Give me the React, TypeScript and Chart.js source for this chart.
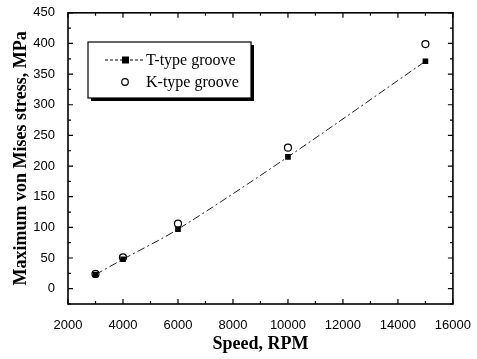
import React, { useEffect, useRef } from "react";
import { Chart, registerables } from "chart.js";

Chart.register(...registerables);

const speeds = [3000, 4000, 6000, 10000, 15000];
const tTypeStress = [23, 48, 97, 215, 371];
const kTypeStress = [24, 51, 106, 230, 399];
const xTicks = [2000, 4000, 6000, 8000, 10000, 12000, 14000, 16000];
const yTicks = [0, 50, 100, 150, 200, 250, 300, 350, 400, 450];
const seriesNames = ["T-type groove", "K-type groove"];

const framePlugin = {
  id: "frame",
  afterDraw(chart: any) {
    const { ctx, chartArea: a, scales } = chart;
    const xs = scales.x;
    const ys = scales.y;
    ctx.save();
    ctx.strokeStyle = "#000";
    ctx.lineWidth = 1.6;
    ctx.strokeRect(a.left, a.top, a.right - a.left, a.bottom - a.top);
    ctx.lineWidth = 1.2;
    const major = 5;
    const minor = 3;
    ctx.beginPath();
    for (let v = 2000; v <= 16000; v += 1000) {
      const px = xs.getPixelForValue(v);
      const L = v % 2000 === 0 ? major : minor;
      ctx.moveTo(px, a.bottom);
      ctx.lineTo(px, a.bottom - L);
      ctx.moveTo(px, a.top);
      ctx.lineTo(px, a.top + L);
    }
    for (let v = -25; v <= 450; v += 25) {
      const py = ys.getPixelForValue(v);
      const L = v % 50 === 0 ? major : minor;
      ctx.moveTo(a.left, py);
      ctx.lineTo(a.left + L, py);
      ctx.moveTo(a.right, py);
      ctx.lineTo(a.right - L, py);
    }
    ctx.stroke();

    // legend box
    const bx = 88, by = 42, bw = 163, bh = 56;
    ctx.fillStyle = "#000";
    ctx.fillRect(bx + 3, by + 3, bw, bh);
    ctx.fillStyle = "#fff";
    ctx.fillRect(bx, by, bw, bh);
    ctx.lineWidth = 1.2;
    ctx.strokeRect(bx, by, bw, bh);

    const y1 = 60, y2 = 82;
    ctx.setLineDash([3, 2]);
    ctx.lineWidth = 1;
    ctx.beginPath();
    ctx.moveTo(105, y1);
    ctx.lineTo(144, y1);
    ctx.stroke();
    ctx.setLineDash([]);
    ctx.fillStyle = "#000";
    ctx.fillRect(122, y1 - 3.5, 7, 7);
    ctx.beginPath();
    ctx.arc(125, y2, 3.3, 0, Math.PI * 2);
    ctx.lineWidth = 1.2;
    ctx.stroke();
    ctx.font = "16px 'Liberation Serif', serif";
    ctx.textBaseline = "middle";
    ctx.fillText(seriesNames[0], 146, y1 + 1);
    ctx.fillText(seriesNames[1], 146, y2 + 1);
    ctx.restore();
  },
};

export default function App() {
  const ref = useRef<HTMLCanvasElement>(null);
  useEffect(() => {
    document.body.style.margin = "0";
    const chart = new Chart(ref.current as HTMLCanvasElement, {
      type: "scatter",
      data: {
        datasets: [
          {
            label: seriesNames[0],
            data: speeds.map((s, i) => ({ x: s, y: tTypeStress[i] })),
            showLine: true,
            borderColor: "#222",
            borderWidth: 1,
            borderDash: [8, 3, 2, 3],
            tension: 0.3,
            pointStyle: "rect",
            pointRadius: 4,
            pointBackgroundColor: "#000",
            pointBorderColor: "#000",
            pointBorderWidth: 0,
          },
          {
            label: seriesNames[1],
            data: speeds.map((s, i) => ({ x: s, y: kTypeStress[i] })),
            showLine: false,
            pointStyle: "circle",
            pointRadius: 3.5,
            pointBackgroundColor: "rgba(255,255,255,0)",
            pointBorderColor: "#000",
            pointBorderWidth: 1.2,
          },
        ],
      },
      options: {
        animation: false,
        responsive: false,
        layout: { padding: { top: 12, right: 22, left: 0, bottom: 0 } },
        plugins: { legend: { display: false }, tooltip: { enabled: false } },
        scales: {
          x: {
            type: "linear",
            min: 2000,
            max: 16000,
            afterBuildTicks: (s: any) => {
              s.ticks = xTicks.map((v) => ({ value: v }));
            },
            afterFit: (s: any) => {
              s.height = 55;
            },
            grid: { display: false },
            border: { display: false },
            ticks: {
              color: "#000",
              padding: 6,
              maxRotation: 0,
              callback: (v: any) => String(v),
              font: { family: "'Liberation Sans', Arial, sans-serif", size: 13 },
            },
            title: {
              display: true,
              text: "Speed, RPM",
              color: "#000",
              padding: { top: 0, bottom: 4 },
              font: { family: "'Liberation Serif', serif", size: 18, weight: "bold" },
            },
          },
          y: {
            type: "linear",
            min: -25,
            max: 450,
            afterBuildTicks: (s: any) => {
              s.ticks = yTicks.map((v) => ({ value: v }));
            },
            afterFit: (s: any) => {
              s.width = 68;
            },
            grid: { display: false },
            border: { display: false },
            ticks: {
              color: "#000",
              padding: 5,
              callback: (v: any) => String(v),
              font: { family: "'Liberation Sans', Arial, sans-serif", size: 13 },
            },
            title: {
              display: true,
              text: "Maximum von Mises stress, MPa",
              color: "#000",
              padding: { top: 11, bottom: 0 },
              font: { family: "'Liberation Serif', serif", size: 18, weight: "bold" },
            },
          },
        },
      },
      plugins: [framePlugin],
    } as any);
    return () => chart.destroy();
  }, []);
  return (
    <div style={{ position: "absolute", left: 0, top: 0, width: 477, height: 359, background: "#fff" }}>
      <canvas ref={ref} width={477} height={359} />
    </div>
  );
}
